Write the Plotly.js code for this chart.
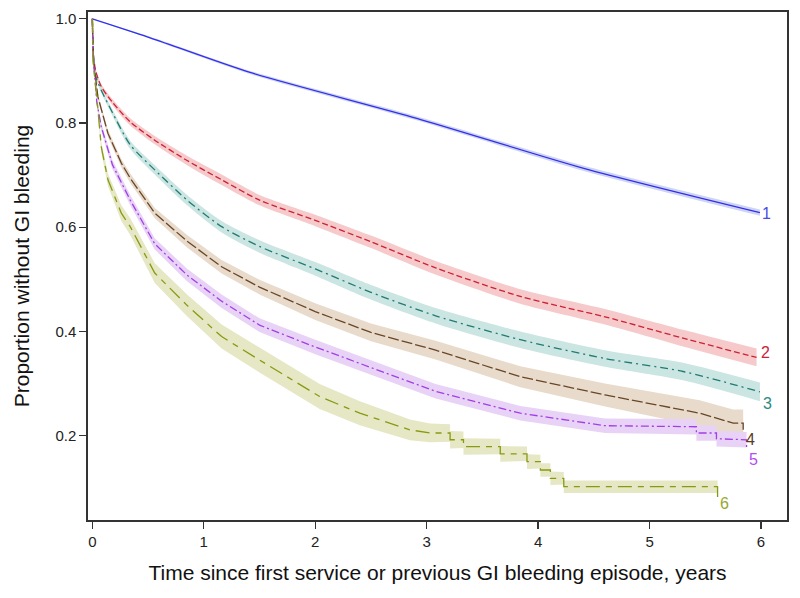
<!DOCTYPE html>
<html>
<head>
<meta charset="utf-8">
<script src="https://cdn.plot.ly/plotly-3.0.1.min.js"></script>
<style>html,body{margin:0;padding:0;background:#fff;}#chart{width:800px;height:598px;}</style>
</head>
<body>
<div id="chart"></div>
<script>
// ---- Data (time in years, proportion without GI bleeding) ----
const labels = ['1', '2', '3', '4', '5', '6'];

const time1 = [0, 0.5, 1.415, 2.91, 4.41, 5.99];
const surv1 = [1.0, 0.965, 0.897, 0.809, 0.713, 0.628];
const half1 = [0, 0.002, 0.003, 0.004, 0.005, 0.006];

const time2 = [0, 0.01, 0.03, 0.08, 0.18, 0.34, 0.56, 0.85, 1.16, 1.5, 2.0, 2.5, 3.08, 3.84, 4.6, 5.3, 5.96];
const surv2 = [1.0, 0.93, 0.9, 0.87, 0.84, 0.802, 0.767, 0.728, 0.691, 0.652, 0.613, 0.572, 0.522, 0.467, 0.428, 0.387, 0.35];
const half2 = [0, 0.003, 0.004, 0.005, 0.006, 0.007, 0.008, 0.009, 0.01, 0.01, 0.011, 0.012, 0.013, 0.014, 0.015, 0.016, 0.017];

const time3 = [0, 0.01, 0.03, 0.08, 0.18, 0.34, 0.56, 0.85, 1.16, 1.5, 2.0, 2.5, 3.08, 3.84, 4.6, 5.3, 5.99];
const surv3 = [1.0, 0.93, 0.89, 0.863, 0.82, 0.758, 0.71, 0.652, 0.601, 0.563, 0.52, 0.475, 0.43, 0.384, 0.348, 0.323, 0.284];
const half3 = [0, 0.003, 0.004, 0.005, 0.006, 0.008, 0.009, 0.01, 0.011, 0.012, 0.013, 0.014, 0.015, 0.016, 0.016, 0.017, 0.018];

const time4 = [0, 0.01, 0.05, 0.14, 0.26, 0.34, 0.56, 0.85, 1.16, 1.5, 2.0, 2.5, 3.08, 3.84, 4.6, 5.15, 5.45, 5.75, 5.84, 5.84];
const surv4 = [1.0, 0.92, 0.85, 0.78, 0.723, 0.694, 0.627, 0.573, 0.524, 0.485, 0.438, 0.398, 0.364, 0.313, 0.278, 0.256, 0.243, 0.224, 0.224, 0.211];
const half4 = [0, 0.003, 0.005, 0.007, 0.008, 0.009, 0.01, 0.012, 0.013, 0.014, 0.016, 0.017, 0.018, 0.02, 0.022, 0.024, 0.025, 0.026, 0.026, 0.026];

const time5 = [0, 0.01, 0.04, 0.08, 0.18, 0.34, 0.56, 0.85, 1.16, 1.5, 2.0, 2.5, 3.08, 3.84, 4.6, 5.42, 5.42, 5.6, 5.6, 5.87, 5.87];
const surv5 = [1.0, 0.92, 0.84, 0.793, 0.72, 0.652, 0.568, 0.508, 0.458, 0.412, 0.37, 0.33, 0.285, 0.243, 0.219, 0.217, 0.205, 0.205, 0.194, 0.192, 0.176];
const half5 = [0, 0.003, 0.006, 0.008, 0.009, 0.01, 0.011, 0.012, 0.013, 0.013, 0.014, 0.014, 0.014, 0.014, 0.014, 0.015, 0.015, 0.015, 0.015, 0.015, 0.015];

const time6 = [0, 0.005, 0.04, 0.08, 0.14, 0.26, 0.34, 0.56, 0.85, 1.16, 1.5, 2.04, 2.4, 2.85, 3.03, 3.21, 3.21, 3.33, 3.33, 3.66, 3.66, 3.9, 3.9, 4.02, 4.02, 4.11, 4.11, 4.23, 4.23, 5.61, 5.61];
const surv6 = [1.0, 0.92, 0.85, 0.754, 0.691, 0.627, 0.601, 0.512, 0.45, 0.39, 0.345, 0.275, 0.243, 0.211, 0.205, 0.205, 0.192, 0.192, 0.179, 0.179, 0.165, 0.165, 0.15, 0.15, 0.134, 0.134, 0.118, 0.118, 0.102, 0.102, 0.073];
const half6 = [0, 0.004, 0.008, 0.01, 0.012, 0.015, 0.016, 0.019, 0.021, 0.023, 0.024, 0.024, 0.023, 0.02, 0.018, 0.017, 0.017, 0.016, 0.016, 0.015, 0.015, 0.014, 0.014, 0.013, 0.013, 0.013, 0.013, 0.012, 0.012, 0.012, 0.012];

const xTicks = [0, 1, 2, 3, 4, 5, 6];
const yTicks = [0.2, 0.4, 0.6, 0.8, 1.0];

// ---- Styles ----
const lineColors = ['#3030ec', '#cc2237', '#1f7c73', '#6a4526', '#a23ee6', '#879a12'];
const bandColors = ['#cfd4f3', '#f6caca', '#cbe5e2', '#e8dbcc', '#e8d3f7', '#e6e7c4'];
const labelColors = ['#4a4ae6', '#cc2237', '#2b8a80', '#5a3a1e', '#b04ef0', '#98a830'];
const dashes = ['solid', '6px,3px', '8px,4px,2px,4px', '11px,3px', '8px,3px,2px,3px', '14px,6px,6px,6px'];
const shapes = ['spline', 'spline', 'spline', 'linear', 'linear', 'linear'];
const labelShift = [[7, -1], [9, 5], [8, -12], [7, -10], [7, -11], [7, -2]];

const times = [time1, time2, time3, time4, time5, time6];
const survs = [surv1, surv2, surv3, surv4, surv5, surv6];
const halves = [half1, half2, half3, half4, half5, half6];

const traces = [];
// confidence bands first
for (let i = 0; i < 6; i++) {
  const t = times[i], s = survs[i], w = halves[i];
  traces.push({
    x: t, y: s.map((v, k) => v - w[k]), mode: 'lines', type: 'scatter',
    line: {width: 0, color: bandColors[i], shape: shapes[i], smoothing: 0.7}, hoverinfo: 'skip', showlegend: false
  });
  traces.push({
    x: t, y: s.map((v, k) => v + w[k]), mode: 'lines', type: 'scatter',
    fill: 'tonexty', fillcolor: bandColors[i],
    line: {width: 0, color: bandColors[i], shape: shapes[i], smoothing: 0.7}, hoverinfo: 'skip', showlegend: false
  });
}
// survival lines
for (let i = 0; i < 6; i++) {
  traces.push({
    x: times[i], y: survs[i], mode: 'lines', type: 'scatter', name: labels[i],
    line: {color: lineColors[i], width: 1.3, dash: dashes[i], shape: shapes[i], smoothing: 0.7}, showlegend: false
  });
}

const annotations = labels.map((lab, i) => ({
  x: times[i][times[i].length - 1], y: survs[i][survs[i].length - 1],
  xref: 'x', yref: 'y', text: lab, showarrow: false,
  xanchor: 'center', yanchor: 'middle',
  xshift: labelShift[i][0], yshift: labelShift[i][1],
  font: {family: 'Liberation Sans, Arial, sans-serif', size: 16, color: labelColors[i]}
}));

const axisFont = {family: 'Liberation Sans, Arial, sans-serif', size: 15, color: '#222'};
const titleFont = {family: 'Liberation Sans, Arial, sans-serif', size: 21, color: '#111'};

const layout = {
  width: 800, height: 598,
  margin: {l: 88, r: 13, t: 12, b: 78},
  paper_bgcolor: '#fff', plot_bgcolor: '#fff',
  showlegend: false,
  xaxis: {
    range: [-0.039, 6.233], tickvals: xTicks, ticktext: xTicks.map(String),
    ticks: 'outside', ticklen: 7, tickwidth: 1.3, tickcolor: '#333',
    showline: true, mirror: true, linecolor: '#333', linewidth: 1.6,
    showgrid: false, zeroline: false, tickfont: axisFont,
    title: {text: 'Time since first service or previous GI bleeding episode, years', font: titleFont, standoff: 17}
  },
  yaxis: {
    range: [0.038, 1.013], tickvals: yTicks, tickformat: '.1f',
    ticks: 'outside', ticklen: 7, tickwidth: 1.3, tickcolor: '#333',
    showline: true, mirror: true, linecolor: '#333', linewidth: 1.6,
    showgrid: false, zeroline: false, tickfont: axisFont,
    title: {text: 'Proportion without GI bleeding', font: titleFont, standoff: 20}
  },
  annotations: annotations
};

Plotly.newPlot('chart', traces, layout, {displayModeBar: false, staticPlot: true});
</script>
</body>
</html>
